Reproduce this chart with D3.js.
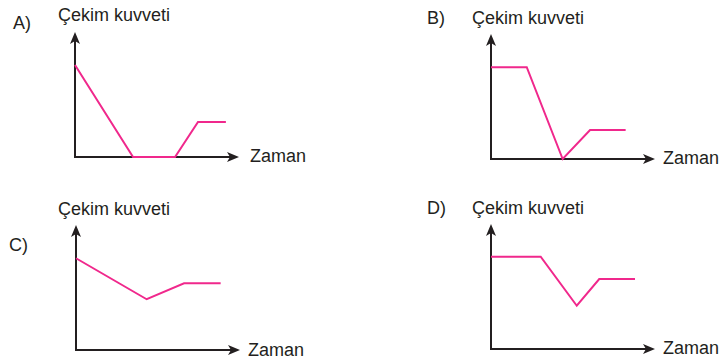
<!DOCTYPE html>
<html>
<head>
<meta charset="utf-8">
<script src="https://cdn.jsdelivr.net/npm/d3@7"></script>
<style>
  body { margin: 0; background: #fff; }
  text { font-family: "Liberation Sans", Arial, sans-serif; fill: #231f20; }
</style>
</head>
<body>
<script>
// option letters and axis titles
const options = ['A)', 'B)', 'C)', 'D)'];
const yTitle = 'Çekim kuvveti';
const xTitle = 'Zaman';

// time / force values for each option (axis units 0..10)
const timeA = [0, 3.54, 6.1, 7.5, 9.2];
const forceA = [7.36, 0, 0, 2.8, 2.8];

const timeB = [0, 2.18, 4.37, 6.04, 8.21];
const forceB = [7.34, 7.34, 0, 2.32, 2.32];

const timeC = [0, 4.31, 6.59, 8.82];
const forceC = [7.34, 4.06, 5.34, 5.34];

const timeD = [0, 3.03, 5.23, 6.6, 8.78];
const forceD = [7.38, 7.38, 3.46, 5.6, 5.6];

const panels = [
  { label: options[0], t: timeA, f: forceA, ox: 75, oy: 157, lx: 13, ly: 29, tx: 58, ty: 21, zx: 250, zy: 162 },
  { label: options[1], t: timeB, f: forceB, ox: 491, oy: 159, lx: 427, ly: 24, tx: 472, ty: 24, zx: 663, zy: 164 },
  { label: options[2], t: timeC, f: forceC, ox: 76, oy: 350, lx: 9, ly: 251, tx: 58, ty: 215, zx: 248, zy: 356 },
  { label: options[3], t: timeD, f: forceD, ox: 491, oy: 349, lx: 427, ly: 214, tx: 472, ty: 214, zx: 663, zy: 354 }
];

const width = 722, height = 364;
const axisW = 164, axisH = 125;

const svg = d3.select('body')
  .append('svg')
  .attr('width', width)
  .attr('height', height);

panels.forEach(p => {
  const x = d3.scaleLinear().domain([0, 10]).range([p.ox, p.ox + axisW]);
  const y = d3.scaleLinear().domain([0, 10]).range([p.oy, p.oy - axisH]);
  const g = svg.append('g');

  // axes with arrow heads
  const x0 = x(0), y0 = y(0), xEnd = x(10), yEnd = y(10);
  g.append('path')
    .attr('d', `M${x0},${yEnd + 8}L${x0},${y0}L${xEnd - 8},${y0}`)
    .attr('fill', 'none')
    .attr('stroke', '#231f20')
    .attr('stroke-width', 2);

  g.append('path')
    .attr('d', `M${x0},${yEnd}L${x0 + 5},${yEnd + 12}L${x0},${yEnd + 9}L${x0 - 5},${yEnd + 12}Z`)
    .attr('fill', '#231f20');

  g.append('path')
    .attr('d', `M${xEnd},${y0}L${xEnd - 12},${y0 - 5}L${xEnd - 9},${y0}L${xEnd - 12},${y0 + 5}Z`)
    .attr('fill', '#231f20');

  // force line
  const line = d3.line()
    .x(d => x(d[0]))
    .y(d => y(d[1]));

  g.append('path')
    .datum(d3.zip(p.t, p.f))
    .attr('d', line)
    .attr('fill', 'none')
    .attr('stroke', '#f0288c')
    .attr('stroke-width', 2)
    .attr('stroke-linejoin', 'miter');

  g.append('text').attr('x', p.lx).attr('y', p.ly).attr('font-size', 18).text(p.label);
  g.append('text').attr('x', p.tx).attr('y', p.ty).attr('font-size', 18).text(yTitle);
  g.append('text').attr('x', p.zx).attr('y', p.zy).attr('font-size', 18).text(xTitle);
});
</script>
</body>
</html>
